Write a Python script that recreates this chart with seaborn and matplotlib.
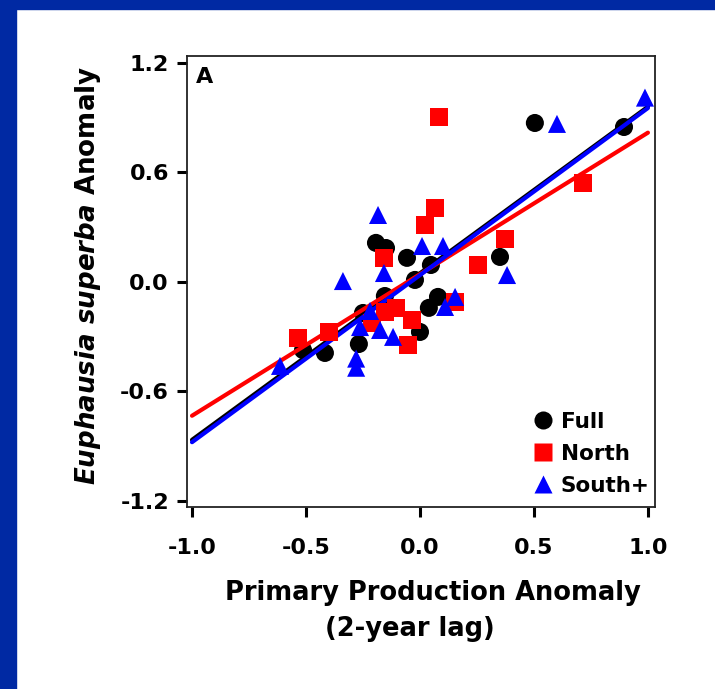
import matplotlib
matplotlib.use("Agg")
import matplotlib.pyplot as plt
from matplotlib.patches import Rectangle
from matplotlib.lines import Line2D
import seaborn as sns
import pandas as pd
import numpy as np

# ---- data ----
full_x = [0.504, 0.895, -0.193, -0.149, -0.057, 0.048, -0.022, -0.154, 0.351,
          0.039, 0.079, 0.000, -0.513, -0.417, -0.268, -0.250]
full_y = [0.871, 0.849, 0.214, 0.186, 0.132, 0.093, 0.011, -0.077, 0.137,
          -0.142, -0.082, -0.274, -0.373, -0.389, -0.340, -0.170]

north_x = [0.083, 0.715, 0.066, 0.022, -0.158, 0.373, 0.254, -0.535, -0.399,
           -0.211, -0.154, -0.105, -0.035, -0.053, 0.154]
north_y = [0.904, 0.542, 0.405, 0.312, 0.132, 0.236, 0.093, -0.307, -0.274,
           -0.225, -0.164, -0.142, -0.208, -0.345, -0.110]

south_x = [0.987, 0.601, -0.184, 0.009, 0.101, -0.158, -0.338, 0.382, 0.110,
           0.154, -0.614, -0.280, -0.280, -0.263, -0.175, -0.118, -0.219]
south_y = [1.010, 0.866, 0.367, 0.197, 0.197, 0.049, 0.005, 0.038, -0.137,
           -0.082, -0.460, -0.420, -0.470, -0.247, -0.263, -0.301, -0.159]

groups = ["Full", "North", "South+"]
fit_slope = [0.9125, 0.7755, 0.9155]
fit_intercept = [0.0475, 0.0425, 0.0375]
fit_range = [-1.0, 1.0]

x_ticks = [-1.0, -0.5, 0.0, 0.5, 1.0]
y_ticks = [-1.2, -0.6, 0.0, 0.6, 1.2]

xlabel_lines = ["Primary Production Anomaly", "(2-year lag)"]
ylabel_text = r"$\mathbfit{Euphausia\ superba}$ Anomaly"
panel_label = "A"

# ---- styling ----
sns.set_theme(style="white")
plt.rcParams["font.family"] = ["DejaVu Sans"]
plt.rcParams["font.weight"] = "bold"
plt.rcParams["text.color"] = "black"
plt.rcParams["axes.labelcolor"] = "black"
plt.rcParams["xtick.color"] = "black"
plt.rcParams["ytick.color"] = "black"
plt.rcParams["axes.unicode_minus"] = False
plt.rcParams["mathtext.fontset"] = "custom"
plt.rcParams["mathtext.bfit"] = "DejaVu Sans:italic:bold"
plt.rcParams["mathtext.rm"] = "DejaVu Sans:bold"

colors = {"Full": "#000000", "North": "#FF0000", "South+": "#0000FF"}
markers = {"Full": "o", "North": "s", "South+": "^"}
zorders = {"Full": 2, "North": 4, "South+": 5}

df = pd.concat([
    pd.DataFrame({"x": full_x, "y": full_y, "g": "Full"}),
    pd.DataFrame({"x": north_x, "y": north_y, "g": "North"}),
    pd.DataFrame({"x": south_x, "y": south_y, "g": "South+"}),
], ignore_index=True)

lines = pd.concat([
    pd.DataFrame({"x": fit_range,
                  "y": [fit_intercept[i] + fit_slope[i] * v for v in fit_range],
                  "g": g})
    for i, g in enumerate(groups)
], ignore_index=True)

W, H = 715, 689
fig = plt.figure(figsize=(W / 100, H / 100), dpi=100)
fig.patch.set_facecolor("white")
fig.patches.append(Rectangle((0, 1 - 9 / H), 1, 9 / H, transform=fig.transFigure,
                             color="#0029A3", zorder=0))
fig.patches.append(Rectangle((0, 0), 16 / W, 1, transform=fig.transFigure,
                             color="#0029A3", zorder=0))

ax = fig.add_axes([187 / W, 1 - 507 / H, 468 / W, 451 / H])

msize = 13
for g in groups:
    sub = df[df.g == g]
    sns.scatterplot(data=sub, x="x", y="y", ax=ax, color=colors[g], marker=markers[g],
                    s=msize ** 2, edgecolor="none", linewidth=0, zorder=zorders[g],
                    legend=False)

for g in ["Full", "North", "South+"]:
    sub = lines[lines.g == g]
    sns.lineplot(data=sub, x="x", y="y", ax=ax, color=colors[g], linewidth=3,
                 zorder=3, legend=False)

ax.set_xlim(-1.022, 1.031)
ax.set_ylim(-1.233, 1.238)
ax.set_xticks(x_ticks)
ax.set_xticklabels([f"{v:.1f}" for v in x_ticks])
ax.set_yticks(y_ticks)
ax.set_yticklabels([f"{v:.1f}" for v in y_ticks])
ax.set_xlabel("")
ax.set_ylabel("")

for sp in ax.spines.values():
    sp.set_color("#222222")
    sp.set_linewidth(1.3)

ax.tick_params(axis="both", which="both", direction="out", length=7, width=2.2,
               color="black", labelsize=16)
ax.tick_params(axis="x", bottom=True, top=False, pad=15)
ax.tick_params(axis="y", left=True, right=False, pad=6)
for lab in ax.get_xticklabels() + ax.get_yticklabels():
    lab.set_fontweight("bold")

fig.text(433 / W, 1 - 600 / H, xlabel_lines[0], fontsize=18.5, fontweight="bold",
         ha="center", va="baseline")
fig.text(410 / W, 1 - 636 / H, xlabel_lines[1], fontsize=18.5, fontweight="bold",
         ha="center", va="baseline")
fig.text(88 / W, 1 - 275 / H, ylabel_text, fontsize=18.8, fontweight="bold",
         ha="center", va="center", rotation=90)

ax.text(0.018, 0.975, panel_label, transform=ax.transAxes, fontsize=16,
        fontweight="bold", ha="left", va="top")

handles = [Line2D([0], [0], marker=markers[g], color="none", markerfacecolor=colors[g],
                  markeredgecolor="none", markersize=msize, label=g) for g in groups]
ax.legend(handles=handles, loc="lower left", bbox_to_anchor=(0.743, 0.025),
          frameon=False, handlelength=0.8, handletextpad=0.4,
          labelspacing=0.56, borderpad=0, borderaxespad=0,
          prop={"weight": "bold", "size": 15.5})

fig.savefig("out.png", dpi=100)
